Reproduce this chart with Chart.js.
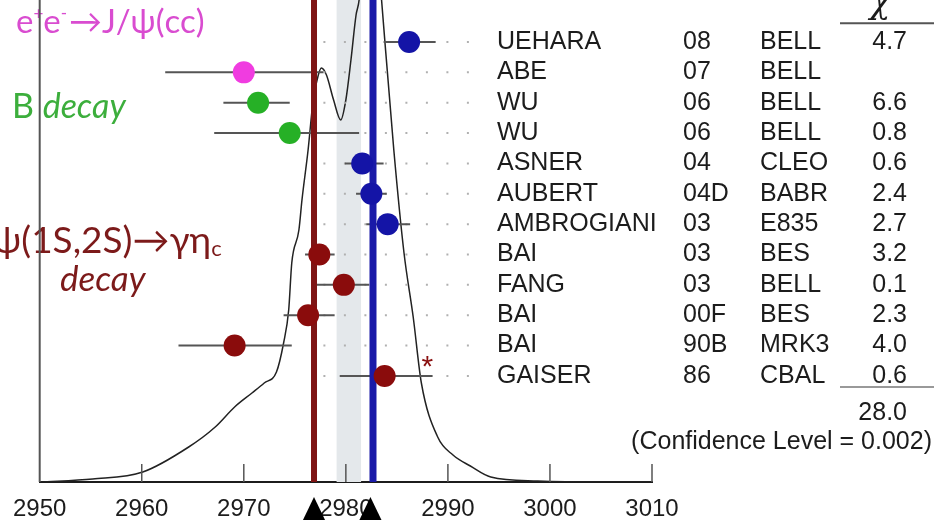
<!DOCTYPE html>
<html>
<head>
<meta charset="utf-8">
<script src="https://cdn.jsdelivr.net/npm/chart.js@4.4.1/dist/chart.umd.min.js"></script>
<style>
  html, body { margin: 0; padding: 0; background: #fff; }
</style>
</head>
<body>
<canvas id="myChart" width="934" height="520"></canvas>
<script>

// measurements, top row first
const names = ['UEHARA', 'ABE', 'WU', 'WU', 'ASNER', 'AUBERT', 'AMBROGIANI', 'BAI', 'FANG', 'BAI', 'BAI', 'GAISER'];
const years = ['08', '07', '06', '06', '04', '04D', '03', '03', '03', '00F', '90B', '86'];
const experiments = ['BELL', 'BELL', 'BELL', 'BELL', 'CLEO', 'BABR', 'E835', 'BES', 'BELL', 'BES', 'MRK3', 'CBAL'];
const chi2 = ['4.7', '', '6.6', '0.8', '0.6', '2.4', '2.7', '3.2', '0.1', '2.3', '4.0', '0.6'];
const masses = [2986.2, 2970.0, 2971.4, 2974.5, 2981.6, 2982.5, 2984.1, 2977.4, 2979.8, 2976.3, 2969.1, 2983.8];
const errLow = [2983.7, 2962.3, 2968.0, 2967.1, 2979.9, 2981.0, 2982.0, 2976.0, 2977.1, 2973.9, 2963.6, 2979.4];
const errHigh = [2988.8, 2977.8, 2974.5, 2981.3, 2983.7, 2984.0, 2986.3, 2978.9, 2982.3, 2978.9, 2974.7, 2988.5];
const groups = ['psi', 'ee', 'B', 'B', 'psi2', 'psi2', 'psi2', 'rad', 'rad', 'rad', 'rad', 'rad'];

const chi2Total = '28.0';
const confidence = '(Confidence Level = 0.002)';

// averages
const redMean = 2976.88;
const blueMean = 2982.66;
const band = [2979.07, 2981.51];

// ideogram curve (arbitrary height)
const curveX = [2950, 2955.2, 2960.1, 2964.6, 2967.2, 2969.1, 2970.8, 2972.0, 2973.2, 2973.9, 2974.4, 2974.7, 2975.4, 2975.7, 2976.3, 2976.8, 2977.3, 2977.6, 2978.1, 2978.8, 2979.5, 2980.0, 2980.5, 2981.0, 2981.3, 2982.4, 2983.5, 2984.7, 2985.7, 2986.6, 2987.4, 2989.0, 2990.5, 2992.2, 2994.2, 2998.8, 3005, 3010];
const curveY = [0, 3, 10, 35, 55, 75, 89, 99, 110, 139, 172, 219, 252, 282, 332, 382, 407, 414, 407, 382, 362, 382, 422, 467, 482, 620, 482, 332, 229, 165, 99, 45, 27, 16, 5, 1, 0, 0];

const xTicks = [2950, 2960, 2970, 2980, 2990, 3000, 3010];

const colors = {
  psi: '#1414a6', ee: '#f03ce0', B: '#26b026', psi2: '#1414a6', rad: '#8a0c0c'
};

(() => {

const ctx = document.getElementById('myChart');

const errorSets = masses.map((m, i) => ({
  type: 'line', showLine: true, order: 3,
  data: [{x: errLow[i], y: i}, {x: errHigh[i], y: i}],
  borderColor: '#555', borderWidth: 2, pointRadius: 0, yAxisID: 'y'
}));

const dotSets = masses.map((m, i) => ({
  type: 'line', showLine: true, order: 5,
  data: [{x: 2977.8, y: i}, {x: 2992.9, y: i}],
  borderColor: '#b0b0b0', borderWidth: 2, borderDash: [2, 18.5],
  pointRadius: 0, yAxisID: 'y'
}));

const datasets = [
  {
    // markers
    type: 'scatter', order: 0,
    data: masses.map((m, i) => ({x: m, y: i})),
    pointRadius: 11, pointHoverRadius: 11, borderWidth: 0,
    backgroundColor: groups.map(g => colors[g]),
    yAxisID: 'y'
  },
  {
    type: 'line', showLine: true, order: 1,
    data: [{x: redMean, y: 0}, {x: redMean, y: 482}],
    borderColor: '#7e1414', borderWidth: 6, pointRadius: 0, yAxisID: 'yc'
  },
  {
    type: 'line', showLine: true, order: 1,
    data: [{x: blueMean, y: 0}, {x: blueMean, y: 482}],
    borderColor: '#1a1aa8', borderWidth: 7, pointRadius: 0, yAxisID: 'yc'
  },
  ...errorSets,
  ...dotSets,
  {
    type: 'line', showLine: true, order: 6,
    data: curveX.map((x, i) => ({x: x, y: curveY[i]})),
    borderColor: '#222', borderWidth: 1.5, pointRadius: 0,
    cubicInterpolationMode: 'monotone', yAxisID: 'yc'
  },
  {
    type: 'line', showLine: true, order: 9,
    data: [{x: band[0], y: 482}, {x: band[1], y: 482}],
    fill: 'origin', backgroundColor: '#e4e8eb', borderWidth: 0, pointRadius: 0,
    yAxisID: 'yc'
  }
];

function runs(c, x, y, parts) {
  parts.forEach(p => {
    c.font = p.font;
    c.fillStyle = p.color;
    c.fillText(p.text, x, y + (p.dy || 0));
    x += c.measureText(p.text).width + (p.gap || 0);
  });
}

const extras = {
  id: 'extras',
  afterDraw(chart) {
    const c = chart.ctx;
    const xs = chart.scales.x;
    const ys = chart.scales.y;
    const area = chart.chartArea;
    c.save();

    // tick marks pointing in
    c.strokeStyle = '#555';
    c.lineWidth = 1.5;
    xTicks.slice(1).forEach(t => {
      const px = xs.getPixelForValue(t);
      c.beginPath();
      c.moveTo(px, area.bottom);
      c.lineTo(px, area.bottom - 18);
      c.stroke();
    });

    // arrows under the axis at the two averages
    c.fillStyle = '#000';
    [redMean, blueMean - 0.25].forEach(v => {
      const px = xs.getPixelForValue(v);
      c.beginPath();
      c.moveTo(px, area.bottom + 15);
      c.lineTo(px - 12, area.bottom + 40);
      c.lineTo(px + 12, area.bottom + 40);
      c.closePath();
      c.fill();
    });

    // left labels
    c.textBaseline = 'alphabetic';
    c.textAlign = 'left';
    const mag = '#d94cd0';
    runs(c, 16, 33, [
      {text: 'e', font: '33px Lato', color: mag},
      {text: '+', font: '17px Lato', color: mag, dy: -13},
      {text: 'e', font: '33px Lato', color: mag},
      {text: '-', font: '17px Lato', color: mag, dy: -14, gap: 2},
      {text: '\u2192J/\u03c8(cc)', font: '33px Lato', color: mag}
    ]);
    const grn = '#3cae3c';
    runs(c, 12, 118, [
      {text: 'B ', font: '34px Lato', color: grn},
      {text: 'decay', font: 'italic 34px Lato', color: grn}
    ]);
    const dred = '#7c1a1a';
    runs(c, -7, 253, [
      {text: '\u03c8(1S,2S)\u2192\u03b3\u03b7', font: '37px Lato', color: dred},
      {text: 'c', font: '22px Lato', color: dred, dy: 3}
    ]);
    runs(c, 60, 291, [
      {text: 'decay', font: 'italic 35px Lato', color: dred}
    ]);
    c.font = '30px "Liberation Sans"';
    c.fillStyle = '#8a1010';
    c.fillText('*', xs.getPixelForValue(2988.2) - 8, ys.getPixelForValue(10.55) + 14);

    // left axis line
    c.strokeStyle = '#555';
    c.lineWidth = 2;
    c.beginPath();
    c.moveTo(area.left, 0);
    c.lineTo(area.left, area.bottom);
    c.stroke();

    // table
    c.font = '25px "Liberation Sans"';
    c.fillStyle = '#1c1c1c';
    c.textBaseline = 'middle';
    names.forEach((n, i) => {
      const py = ys.getPixelForValue(i);
      c.textAlign = 'left';
      c.fillText(n, 497, py);
      c.fillText(years[i], 683, py);
      c.fillText(experiments[i], 760, py);
      c.textAlign = 'right';
      c.fillText(chi2[i], 907, py);
    });
    c.textAlign = 'right';
    c.fillText(chi2Total, 907, ys.getPixelForValue(12.22));
    c.fillText(confidence, 932, ys.getPixelForValue(13.18));

    c.font = 'italic 34px "DejaVu Serif"';
    c.textAlign = 'center';
    c.textBaseline = 'alphabetic';
    c.fillText('\u03c7', 880, 13);

    c.strokeStyle = '#555';
    c.lineWidth = 2;
    c.beginPath();
    c.moveTo(840, ys.getPixelForValue(-0.62));
    c.lineTo(934, ys.getPixelForValue(-0.62));
    c.stroke();
    c.strokeStyle = '#999';
    c.beginPath();
    c.moveTo(840, ys.getPixelForValue(11.36));
    c.lineTo(934, ys.getPixelForValue(11.36));
    c.stroke();

    c.restore();
  }
};

const myChart = new Chart(ctx, {
  type: 'scatter',
  data: { datasets: datasets },
  plugins: [extras],
  options: {
    responsive: false,
    animation: false,
    layout: { autoPadding: false, padding: { left: 37, right: 282, top: 0, bottom: 0 } },
    plugins: { legend: { display: false }, tooltip: { enabled: false } },
    scales: {
      x: {
        type: 'linear', position: 'bottom', min: 2950, max: 3010,
        afterBuildTicks: s => { s.ticks = xTicks.map(v => ({value: v})); },
        afterFit: s => { s.height = 38; },
        grid: { display: false, drawTicks: false },
        border: { display: true, color: '#1c1c1c', width: 2 },
        ticks: { color: '#1c1c1c', padding: 13, maxRotation: 0, autoSkip: false,
                 callback: v => String(v),
                 font: { family: '"Liberation Sans"', size: 24 } }
      },
      y: { type: 'linear', display: false, reverse: true, min: -1.383, max: 14.493 },
      yc: { type: 'linear', display: false, min: 0, max: 482 }
    }
  }
});

})()
</script>
</body>
</html>
